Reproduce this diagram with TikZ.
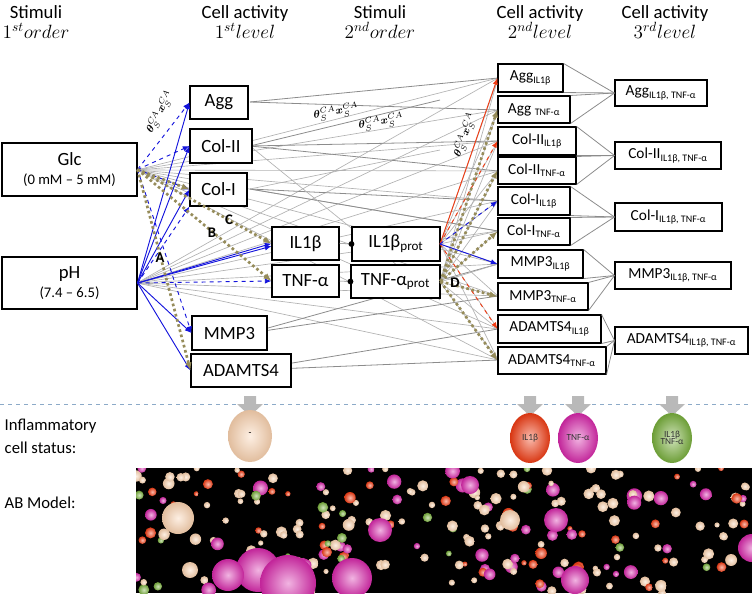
\documentclass[tikz,border=0pt]{standalone}
\usepackage{fontspec}
\setmainfont{Carlito}
\usepackage{amsmath,bm}
\usetikzlibrary{arrows.meta,shadings}
\definecolor{olv}{RGB}{150,140,90}
\definecolor{peach}{RGB}{250,210,175}
\definecolor{rd}{RGB}{240,60,20}
\definecolor{mag}{RGB}{215,40,170}
\definecolor{grn}{RGB}{120,175,60}
\definecolor{bl}{RGB}{20,20,220}
\newcommand{\bx}[6]{\node[box,minimum width={(#4-#2)*0.75pt},minimum height={(#5-#3)*0.75pt}] (#1) at ({(#2+#4)/2},{(#3+#5)/2}) {#6};}
\newcommand{\thx}{$\boldsymbol{\theta}_S^{CA}\boldsymbol{x}_S^{CA}$}
\begin{document}
\begin{tikzpicture}[x=0.75pt,y=-0.75pt,
 box/.style={draw,line width=0.8pt,fill=white,inner sep=1pt,font=\fontsize{14}{15}\selectfont},
 hd/.style={font=\fontsize{14}{16}\selectfont,align=center},
 g/.style={gray!60,line width=0.5pt},
 gd/.style={gray!90,line width=0.6pt},
 ba/.style={bl,line width=0.7pt,-{Latex[length=5pt,width=4pt]}},
 bd/.style={ba,dashed},
 ra/.style={rd,line width=0.7pt,-{Latex[length=5pt,width=4pt]}},
 rdd/.style={ra,dashed},
 oa/.style={olv,line width=2pt,dotted,-{Latex[length=6pt,width=5pt]}},
 lab/.style={font=\bfseries\fontsize{11}{12}\selectfont},
 ball/.style={inner color=#1!35!white,outer color=#1!90!black}]
\useasboundingbox (0,0) rectangle (752,593);
% headers
\node[hd] at (36,22) {Stimuli\\[-1pt]$1^{st}order$};
\node[hd] at (245,22) {Cell activity\\[-1pt]$1^{st}level$};
\node[hd] at (380,22) {Stimuli\\[-1pt]$2^{nd}order$};
\node[hd] at (540,22) {Cell activity\\[-1pt]$2^{nd}level$};
\node[hd] at (665,22) {Cell activity\\[-1pt]$3^{rd}level$};
% gray background lines
\coordinate (gE) at (137,170); \coordinate (pE) at (137,283);
\foreach \y in {78,110,141,171,201,231,264,296,329,360}{
  \draw[g] (gE) -- (498,\y);
  \draw[g] (pE) -- (498,\y);
}
\foreach \ya/\yb/\yc in {102/78/110,146/141/171,189/201/231,333/264/296,370/329/360}{
  \draw[gd] (250,\ya) -- (498,\yb);
  \draw[gd] (250,\ya) -- (498,\yc);
}
\foreach \ya in {244,282}{
  \foreach \y in {78,110,141,171,201,231,264,296,329,360}{ \draw[g] (440,\ya) -- (498,\y);}
}
\draw[gd] (250,146) -- (440,100); \draw[g] (250,189) -- (440,150); \draw[g] (250,146)--(440,300);
% boxes
\node[box,align=center,minimum width={135*0.75pt},minimum height={53*0.75pt}] (glc) at (69.5,169.5) {Glc\\[-1pt]{\fontsize{11}{12}\selectfont(0 mM -- 5 mM)}};
\node[box,align=center,minimum width={135*0.75pt},minimum height={52*0.75pt}] (ph) at (69.5,283) {pH\\[-1pt]{\fontsize{11}{12}\selectfont(7.4 -- 6.5)}};
\bx{agg}{190}{86}{248}{119}{Agg}
\bx{col2}{190}{129}{252}{163}{Col-II}
\bx{col1}{190}{173}{247}{206}{Col-I}
\bx{il}{272}{227}{339}{260}{IL1β}
\bx{tnf}{272}{265}{339}{297}{TNF-α}
\bx{ilp}{352}{227}{440}{261}{IL1β\textsubscript{prot}}
\bx{tnfp}{351}{265}{440}{298}{TNF-α\textsubscript{prot}}
\bx{mmp}{192}{316}{267}{350}{MMP3}
\bx{adam}{191}{354}{291}{387}{ADAMTS4}
\tikzset{box/.append style={font=\fontsize{11.5}{12}\selectfont}}
\newcommand{\sub}[1]{\textsubscript{\fontsize{7.5}{8}\selectfont #1}}
\bx{a1}{498}{64}{563}{92}{Agg\sub{IL1β}}
\bx{a2}{498}{96}{570}{123}{Agg \sub{TNF-α}}
\bx{c21}{498}{127}{576}{155}{Col-II\sub{IL1β}}
\bx{c22}{498}{157}{576}{184}{Col-II\sub{TNF-α}}
\bx{c11}{498}{187}{570}{215}{Col-I\sub{IL1β}}
\bx{c12}{498}{218}{570}{245}{Col-I\sub{TNF-α}}
\bx{m1}{498}{250}{583}{278}{MMP3\sub{IL1β}}
\bx{m2}{498}{283}{588}{310}{MMP3\sub{TNF-α}}
\bx{d1}{498}{315}{601}{343}{ADAMTS4\sub{IL1β}}
\bx{d2}{498}{347}{606}{374}{ADAMTS4\sub{TNF-α}}
\bx{a3}{615}{80}{707}{106}{Agg\sub{IL1β, TNF-α}}
\bx{c23}{615}{142}{721}{169}{Col-II\sub{IL1β, TNF-α}}
\bx{c13}{615}{203}{722}{231}{Col-I\sub{IL1β, TNF-α}}
\bx{m3}{615}{262}{731}{289}{MMP3\sub{IL1β, TNF-α}}
\bx{d3}{615}{327}{748}{354}{ADAMTS4\sub{IL1β, TNF-α}}
% 2nd -> 3rd level
\foreach \p/\q/\t in {a1/a2/a3,c21/c22/c23,c11/c12/c13,m1/m2/m3,d1/d2/d3}{
  \draw[gd] (\p.north east) -- (\t.west); \draw[gd] (\p.south east) -- (\t.west);
  \draw[gd] (\q.north east) -- (\t.west); \draw[gd] (\q.south east) -- (\t.west);
}
% IL1b -> prot
\draw[gray] (il.east) -- (ilp.west); \fill (ilp.west) circle (2.2pt);
\draw[gray] (tnf.east) -- (tnfp.west); \fill (tnfp.west) circle (2.2pt);
% blue / olive arrows from stimuli
\draw[bd] (glc.east) -- (agg.west);
\draw[bd] (glc.east) -- (col2.west);
\draw[bd] (glc.east) -- (col1.west);
\draw[ba] (ph.east) -- (agg.west);
\draw[ba] (ph.east) -- (col2.west);
\draw[ba] (ph.east) -- (col1.west);
\draw[bd] (ph.east) -- (col1.south west);
\draw[ba] (ph.east) -- (il.west);
\draw[ba] (ph.east) -- ([yshift=-2pt]il.west);
\draw[bd] (ph.east) -- (tnf.west);
\draw[ba] (ph.east) -- (mmp.west);
\draw[ba] (ph.east) -- (adam.west);
\draw[bd] (glc.east) -- (mmp.west);
\draw[oa] (glc.east) -- (col1.west);
\draw[oa] (glc.east) -- (il.west);
\draw[oa] (glc.east) -- (tnf.west);
\draw[oa] (glc.east) -- (adam.west);
% from prots
\coordinate (ilo) at (440,244);
\draw[ra] (ilo) -- (a1.west);
\draw[rdd] (ilo) -- (c21.west);
\draw[rdd] (ilo) -- (d1.west);
\draw[bd] (ilo) -- (c11.west);
\draw[ba] (ilo) -- (m1.west);
\foreach \n in {a2,c22,c12,m2,d2}{\draw[oa] (tnfp.east) -- (\n.west);}
% labels
\node[lab] at (160,258) {A};
\node[lab] at (212,233) {B};
\node[lab] at (229,220) {C};
\node[lab] at (455,283) {D};
\node[rotate=62,font=\footnotesize] at (160,112) {\thx};
\node[rotate=10,font=\footnotesize] at (336,112) {\thx};
\node[rotate=10,font=\footnotesize] at (381,122) {\thx};
\node[rotate=70,font=\footnotesize] at (465,135) {\thx};
% separator
\draw[dashed,color={rgb,255:red,140;green,170;blue,200},line width=0.7pt] (0,404) -- (752,404);
\foreach \x in {250,530,578,672}{
  \fill[gray!55] (\x-6,396) -- (\x+6,396) -- (\x+6,404) -- (\x+13,404) -- (\x,416) -- (\x-13,404) -- (\x-6,404) -- cycle;
}
\node[anchor=west,align=left,font=\fontsize{12.5}{17}\selectfont] at (0,436) {Inflammatory\\cell status:};
\node[anchor=west,font=\fontsize{12.5}{15}\selectfont] at (0,503) {AB Model:};
\shade[ball=peach] (250,436) ellipse ({22*0.75pt} and {26*0.75pt});
\node[font=\scriptsize] at (250,434) {-};
\shade[ball=rd] (530,438) ellipse ({20*0.75pt} and {25*0.75pt});
\node[font=\scriptsize,black!80] at (530,438) {IL1β};
\shade[ball=mag] (578,438) ellipse ({20*0.75pt} and {25*0.75pt});
\node[font=\scriptsize,black!80] at (578,438) {TNF-α};
\shade[ball=grn] (672,438) ellipse ({20*0.75pt} and {25*0.75pt});
\node[font=\scriptsize,black!80,align=center] at (672,438) {IL1β\\[-3pt]TNF-α};
% AB model
\fill[black] (136,468) rectangle (752,593);
\begin{scope}
\clip (136,468) rectangle (752,593);
\pgfmathsetseed{11}
\foreach \i in {1,...,230}{
  \pgfmathsetmacro\px{136+rnd*616}
  \pgfmathsetmacro\py{468+rnd*125}
  \pgfmathsetmacro\r{2.5+rnd*3.5}
  \pgfmathrandominteger{\c}{1}{12}
  \ifcase\c\or
   \shade[ball=peach] (\px,\py) circle ({\r*0.75pt});\or
   \shade[ball=peach] (\px,\py) circle ({\r*0.75pt});\or
   \shade[ball=peach] (\px,\py) circle ({\r*0.75pt});\or
   \shade[ball=peach] (\px,\py) circle ({\r*0.75pt});\or
   \shade[ball=peach] (\px,\py) circle ({\r*0.75pt});\or
   \shade[ball=peach] (\px,\py) circle ({\r*0.75pt});\or
   \shade[ball=rd] (\px,\py) circle ({\r*0.75pt});\or
   \shade[ball=rd] (\px,\py) circle ({\r*0.75pt});\or
   \shade[ball=mag] (\px,\py) circle ({\r*1.4*0.75pt});\or
   \shade[ball=mag] (\px,\py) circle ({\r*1.2*0.75pt});\or
   \shade[ball=grn] (\px,\py) circle ({\r*0.75pt});\or
   \shade[ball=peach] (\px,\py) circle ({\r*0.75pt});\fi
}
\foreach \px/\py/\r in {258/570/22,288/583/28,228/575/16,352/578/20,575/580/14,556/520/12,752/548/14,380/530/12,470/485/9}{
  \shade[ball=mag] (\px,\py) circle ({\r*0.75pt});}
\foreach \px/\py/\r in {178/518/16,190/570/8,510/520/10}{
  \shade[ball=peach] (\px,\py) circle ({\r*0.75pt});}
\end{scope}
\end{tikzpicture}
\end{document}
